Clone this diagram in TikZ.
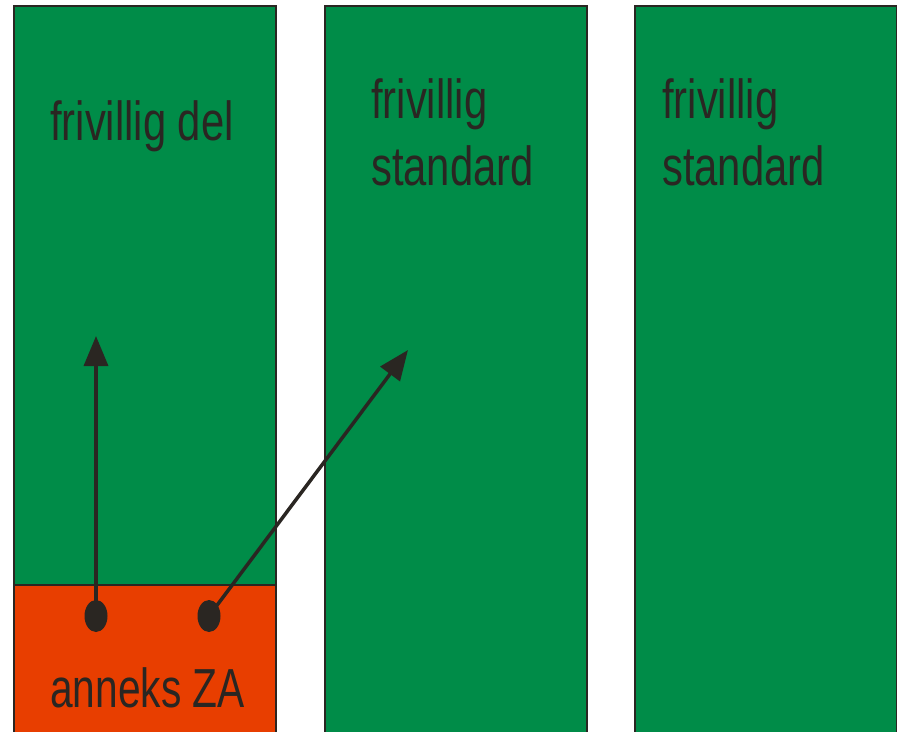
\documentclass[tikz,border=0pt]{standalone}
\usepackage{fontspec}
\setmainfont{Liberation Sans}[FakeStretch=0.76]
\usetikzlibrary{arrows.meta,shapes.geometric}
\definecolor{cgreen}{RGB}{0,140,72}
\definecolor{corange}{RGB}{232,62,0}
\definecolor{cdark}{RGB}{42,38,34}
\tikzset{
  col/.style={fill=cgreen,draw=cdark,line width=2pt},
  ann/.style={fill=corange,draw=cdark,line width=2pt},
  lbl/.style={anchor=base west,inner sep=0pt,text=cdark,font=\fontsize{55}{67}\selectfont,align=left},
  dot/.style={ellipse,fill=cdark,minimum width=23pt,minimum height=32pt,inner sep=0pt},
  arr/.style={draw=cdark,line width=3.5pt,-{Triangle[length=30pt,width=24pt]}}
}
\begin{document}
\begin{tikzpicture}[x=1pt,y=-1pt]
\useasboundingbox (0,0) rectangle (897,731);
\draw[col] (13.5,5.5) rectangle (276,745);
\draw[ann] (13.5,585) rectangle (276,745);
\draw[col] (324.5,5.5) rectangle (587,745);
\draw[col] (635,5.5) rectangle (896.5,745);
\node[lbl] (t1) at (50,140) {frivillig del};
\node[lbl] (t2) at (371,185) {frivillig\\standard};
\node[lbl] (t3) at (662,185) {frivillig\\standard};
\node[lbl,font=\fontsize{55}{67}\selectfont\addfontfeatures{FakeStretch=0.74}] (t4) at (50,707) {anneks ZA};
\node[dot] (d1) at (96,616) {};
\node[dot] (d2) at (209,616) {};
\coordinate (e1) at (96,336);
\coordinate (e2) at (408,350);
\draw[arr] (d1.center) -- (e1);
\draw[arr] (d2.center) -- (e2);
\end{tikzpicture}
\end{document}
